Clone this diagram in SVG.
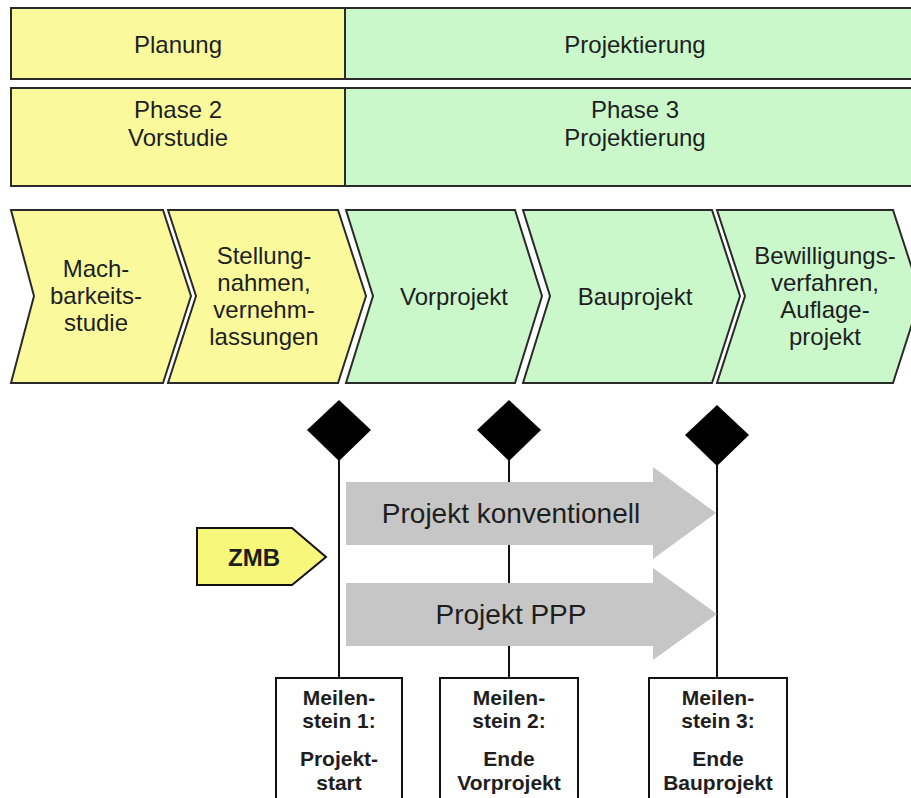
<svg xmlns="http://www.w3.org/2000/svg" width="911" height="798" viewBox="0 0 911 798">
  <defs>
    <style>
      .yel { fill: #fafa9c; stroke: #2a2a2a; stroke-width: 2; }
      .grn { fill: #cbf8cb; stroke: #2a2a2a; stroke-width: 2; }
      .lbl { font-family: "Liberation Sans", Arial, sans-serif; fill: #1e1e1e; text-anchor: middle; }
      .bar { font-size: 24px; }
      .chev { font-size: 24px; }
      .flow { font-size: 28px; }
      .ms { font-size: 21px; font-weight: bold; }
      .zmb { font-size: 24px; font-weight: bold; }
      .mline { stroke: #111; stroke-width: 2; fill: none; }
      .diamond { fill: #000; }
      .garrow { fill: #c6c6c6; }
      .mbox { fill: #fff; stroke: #111; stroke-width: 2; }
    </style>
  </defs>
  <rect width="911" height="798" fill="#fff"/>

  <!-- Row 1: stages -->
  <g id="stage-planung">
    <rect class="yel" x="11" y="8" width="334" height="71"/>
    <text class="lbl bar" x="178" y="53">Planung</text>
  </g>
  <g id="stage-projektierung">
    <rect class="grn" x="345" y="8" width="590" height="71"/>
    <text class="lbl bar" x="635" y="53">Projektierung</text>
  </g>

  <!-- Row 2: phases -->
  <g id="phase-2">
    <rect class="yel" x="11" y="88" width="334" height="98"/>
    <text class="lbl bar" x="178" y="118">Phase 2</text>
    <text class="lbl bar" x="178" y="146">Vorstudie</text>
  </g>
  <g id="phase-3">
    <rect class="grn" x="345" y="88" width="590" height="98"/>
    <text class="lbl bar" x="635" y="118">Phase 3</text>
    <text class="lbl bar" x="635" y="146">Projektierung</text>
  </g>

  <!-- Row 3: process chevrons -->
  <g id="step-machbarkeit">
    <polygon class="yel" points="11,210 163,210 191,296 163,383 11,383 34,296"/>
    <text class="lbl chev" x="96" y="277">Mach-</text>
    <text class="lbl chev" x="96" y="304">barkeits-</text>
    <text class="lbl chev" x="96" y="331">studie</text>
  </g>
  <g id="step-stellungnahmen">
    <polygon class="yel" points="168,210 338,210 366,296 338,383 168,383 196,296"/>
    <text class="lbl chev" x="264" y="264">Stellung-</text>
    <text class="lbl chev" x="264" y="291">nahmen,</text>
    <text class="lbl chev" x="264" y="318">vernehm-</text>
    <text class="lbl chev" x="264" y="345">lassungen</text>
  </g>
  <g id="step-vorprojekt">
    <polygon class="grn" points="346,210 515,210 542,296 515,383 346,383 373,296"/>
    <text class="lbl chev" x="454" y="305">Vorprojekt</text>
  </g>
  <g id="step-bauprojekt">
    <polygon class="grn" points="523,210 712,210 740,296 712,383 523,383 550,296"/>
    <text class="lbl chev" x="635" y="305">Bauprojekt</text>
  </g>
  <g id="step-bewilligung">
    <polygon class="grn" points="717,210 893,210 921,296 893,383 717,383 745,296"/>
    <text class="lbl chev" x="825" y="264">Bewilligungs-</text>
    <text class="lbl chev" x="825" y="291">verfahren,</text>
    <text class="lbl chev" x="825" y="318">Auflage-</text>
    <text class="lbl chev" x="825" y="345">projekt</text>
  </g>

  <!-- Milestone connectors -->
  <g id="connectors">
    <line class="mline" x1="339" y1="430" x2="339" y2="678"/>
    <line class="mline" x1="509" y1="430" x2="509" y2="678"/>
    <line class="mline" x1="717" y1="435" x2="717" y2="678"/>
  </g>

  <!-- Milestone diamonds -->
  <g id="diamond-1"><polygon class="diamond" points="339,400 371,430 339,461 307,430"/></g>
  <g id="diamond-2"><polygon class="diamond" points="509,400 541,430 509,461 477,430"/></g>
  <g id="diamond-3"><polygon class="diamond" points="717,405 749,435 717,466 685,435"/></g>

  <!-- Project tracks -->
  <g id="track-konventionell">
    <polygon class="garrow" points="346,482 653,482 653,467 716,513 653,559 653,545 346,545"/>
    <text class="lbl flow" x="511" y="523">Projekt konventionell</text>
  </g>
  <g id="track-ppp">
    <polygon class="garrow" points="346,583 653,583 653,568 717,614 653,660 653,646 346,646"/>
    <text class="lbl flow" x="511" y="624">Projekt PPP</text>
  </g>

  <!-- ZMB tag -->
  <g id="zmb">
    <polygon points="197,528 292,528 326,557 292,585 197,585" fill="#f7f77c" stroke="#111" stroke-width="2"/>
    <text class="lbl zmb" x="254" y="566">ZMB</text>
  </g>

  <!-- Milestone boxes -->
  <g id="milestone-1">
    <rect class="mbox" x="276" y="678" width="126" height="130"/>
    <text class="lbl ms" x="339" y="705">Meilen-</text>
    <text class="lbl ms" x="339" y="728">stein 1:</text>
    <text class="lbl ms" x="339" y="766">Projekt-</text>
    <text class="lbl ms" x="339" y="790">start</text>
  </g>
  <g id="milestone-2">
    <rect class="mbox" x="440" y="678" width="138" height="130"/>
    <text class="lbl ms" x="509" y="705">Meilen-</text>
    <text class="lbl ms" x="509" y="728">stein 2:</text>
    <text class="lbl ms" x="509" y="766">Ende</text>
    <text class="lbl ms" x="509" y="790">Vorprojekt</text>
  </g>
  <g id="milestone-3">
    <rect class="mbox" x="649" y="678" width="138" height="130"/>
    <text class="lbl ms" x="718" y="705">Meilen-</text>
    <text class="lbl ms" x="718" y="728">stein 3:</text>
    <text class="lbl ms" x="718" y="766">Ende</text>
    <text class="lbl ms" x="718" y="790">Bauprojekt</text>
  </g>
</svg>
